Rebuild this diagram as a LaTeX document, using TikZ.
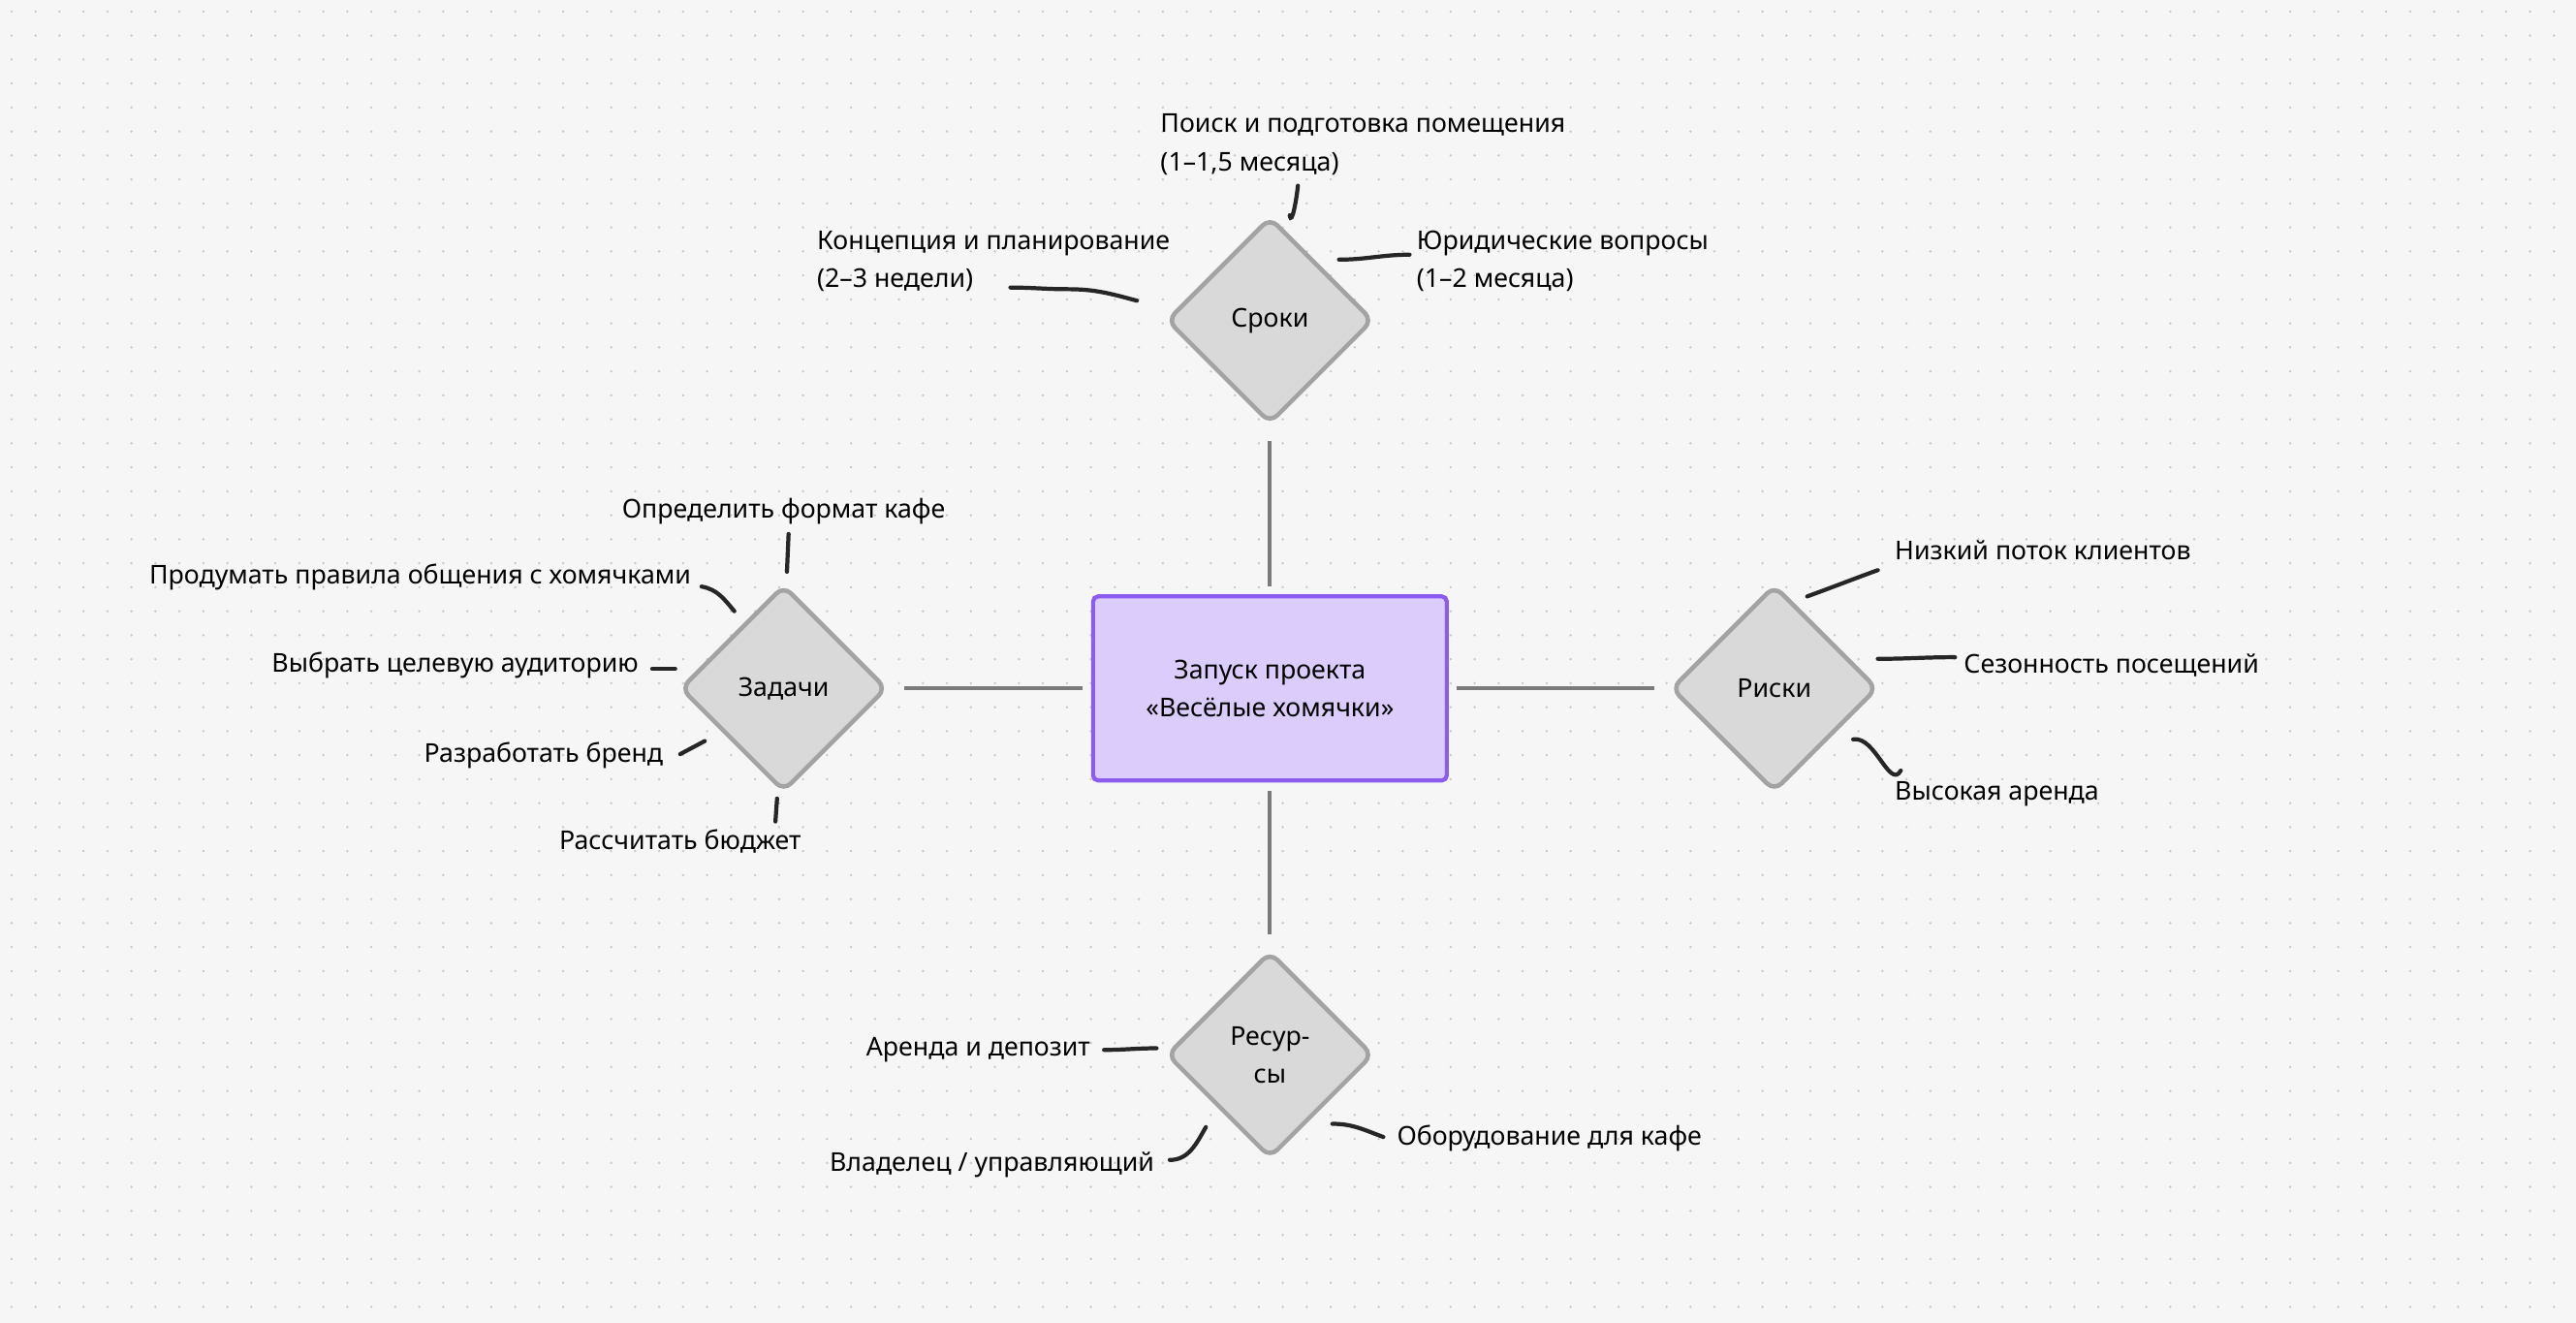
\documentclass[tikz,border=0pt]{standalone}
\usepackage{fontspec}
\setmainfont{Noto Sans}
\usetikzlibrary{positioning,shapes.geometric}
\definecolor{bgc}{HTML}{F6F6F6}
\definecolor{dotc}{HTML}{C9C9C9}
\definecolor{lilac}{HTML}{DCCCFB}
\definecolor{violet}{HTML}{8A5CF0}
\definecolor{dgray}{HTML}{D9D9D9}
\definecolor{bgray}{HTML}{A3A3A3}
\definecolor{lgray}{HTML}{7A7A7A}
\begin{document}
\begin{tikzpicture}[x=0.01695cm,y=-0.01695cm,font=\fontsize{7.6}{11.2}\selectfont]
        \tikzset{center/.style={draw=violet,fill=lilac,line width=1.2pt,rounded corners=1.5pt,align=center,minimum width=3.65cm,minimum height=1.9cm},
        branch/.style={draw=bgray,fill=dgray,line width=1.3pt,diamond,rounded corners=3pt,align=center,minimum size=2.13cm,inner sep=0pt},
        link/.style={draw=lgray,line width=1.1pt},
        tick/.style={draw=black!85,line width=1.2pt,line cap=round},
        lbl/.style={align=left,inner sep=0pt}
        }
        \useasboundingbox[fill=bgc] (0,0) rectangle (1568,805);
        \foreach \i in {0,...,107} \foreach \j in {0,...,55}
            \fill[dotc] (7+14.6*\i,7+14.6*\j) circle (0.8);

        \node [center] (main) at (773,419) {Запуск проекта\\«Весёлые хомячки»};
        \node [branch] (terms) at (773,195) {Сроки};
        \node [branch] (tasks) at (477,419) {Задачи};
        \node [branch] (risks) at (1080,419) {Риски};
        \node [branch] (res) at (773,642) {Ресур-\\сы};

%% labels
        \node [lbl,anchor=west] (t1) at (706,88) {Поиск и подготовка помещения\\(1–1,5 месяца)};
        \node [lbl,anchor=west] (t2) at (862,159) {Юридические вопросы\\(1–2 месяца)};
        \node [lbl,anchor=west] (t3) at (497,159) {Концепция и планирование\\(2–3 недели)};
        \node [lbl] (z1) at (477,311) {Определить формат кафе};
        \node [lbl,anchor=east] (z2) at (421,351) {Продумать правила общения с хомячками};
        \node [lbl,anchor=east] (z3) at (389,405) {Выбрать целевую аудиторию};
        \node [lbl,anchor=east] (z4) at (404,460) {Разработать бренд};
        \node [lbl] (z5) at (414,512) {Рассчитать бюджет};
        \node [lbl,anchor=west] (r1) at (1153,335) {Низкий поток клиентов};
        \node [lbl,anchor=west] (r2) at (1195,405) {Сезонность посещений};
        \node [lbl,anchor=west] (r3) at (1153,483) {Высокая аренда};
        \node [lbl,anchor=east] (s1) at (664,639) {Аренда и депозит};
        \node [lbl,anchor=east] (s2) at (703,709) {Владелец / управляющий};
        \node [lbl,anchor=west] (s3) at (850,693) {Оборудование для кафе};

%% paths
        \path[link] (main.north) ++(0,-5) coordinate (mn) (terms.south) ++(0,9) coordinate (ts)
              (mn) -- (ts)
              (main.west) ++(-5,0) coordinate (mw) (tasks.east) ++(9,0) coordinate (te)
              (mw) -- (te)
              (main.east) ++(5,0) coordinate (me) (risks.west) ++(-9,0) coordinate (rw)
              (me) -- (rw)
              (main.south) ++(0,5) coordinate (ms) (res.north) ++(0,-9) coordinate (rn)
              (ms) -- (rn);
        \draw[tick] (785,131) to[out=-80,in=-95] (790,113);
        \draw[tick] (815,158) to[out=0,in=180] (858,155);
        \draw[tick] (692,183) to[out=165,in=0] (650,176) to[out=180,in=0] (615,175);
        \draw[tick] (479,348) -- (480,325);
        \draw[tick] (447,372) to[out=130,in=-10] (427,357);
        \draw[tick] (411,407) -- (397,407);
        \draw[tick] (429,451) -- (414,459);
        \draw[tick] (473,486) -- (472,500);
        \draw[tick] (1100,363) to[out=20,in=-160] (1143,347);
        \draw[tick] (1143,401) to[out=0,in=180] (1190,400);
        \draw[tick] (1128,450) to[out=10,in=-120] (1157,469);
        \draw[tick] (704,638) to[out=180,in=0] (672,639);
        \draw[tick] (734,686) to[out=-120,in=0] (712,706);
        \draw[tick] (811,684) to[out=0,in=160] (842,692);
    \end{tikzpicture}
\end{document}
